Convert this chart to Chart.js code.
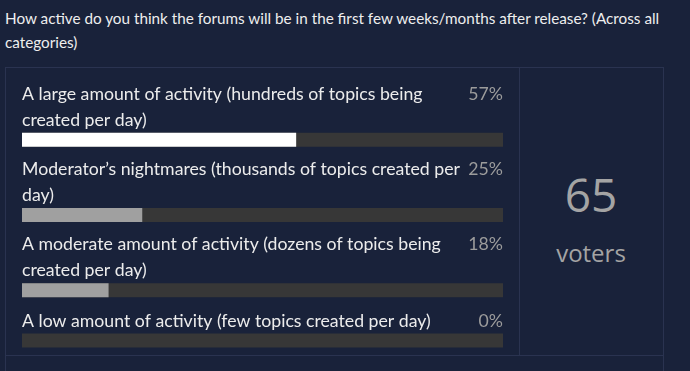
<!DOCTYPE html>
<html>
<head>
<meta charset="utf-8">
<script src="https://cdn.jsdelivr.net/npm/chart.js@4/dist/chart.umd.min.js"></script>
<style>
html, body { margin: 0; padding: 0; width: 690px; height: 371px; overflow: hidden; background: #19223a; }
.title { position: absolute; left: 5px; top: 6px; color: #eeeeee; font-family: Lato, sans-serif; font-size: 16px; line-height: 24px; white-space: nowrap; }
.title span { display: block; }
.poll { position: absolute; left: 5px; top: 67px; width: 657px; height: 330px; border: 1px solid #2a3350; }
.divider { position: absolute; left: 513px; top: 0; width: 1px; height: 287px; background: #2a3350; }
.hline { position: absolute; left: 0; top: 287px; width: 657px; height: 1px; background: #2a3350; }
.count { position: absolute; left: 519px; width: 144px; text-align: center; color: #a4a4a4; font-family: 'Open Sans', sans-serif; }
#num { top: 162px; font-size: 46px; line-height: 64px; }
#lbl { top: 235px; font-size: 24px; line-height: 36px; }
canvas { position: absolute; left: 0; top: 0; }
</style>
</head>
<body>
<div class="title" id="title">
  <span>How active do you think the forums will be in the first few weeks/months after release? (Across all</span>
  <span>categories)</span>
</div>
<div class="poll"><div class="divider"></div><div class="hline"></div></div>
<div class="count" id="num"></div>
<div class="count" id="lbl">voters</div>
<canvas id="poll_chart" width="519" height="371"></canvas>
<script>
// poll options (labels wrapped the way the forum wraps them)
var optionLabels = [
    ['A large amount of activity (hundreds of topics being', 'created per day)'],
    ['Moderator\u2019s nightmares (thousands of topics created per', 'day)'],
    ['A moderate amount of activity (dozens of topics being', 'created per day)'],
    ['A low amount of activity (few topics created per day)']
];
var percentages = [57, 25, 18, 0];
var voterCount = 65;

document.getElementById('num').textContent = voterCount;

// size the title so its first line fills the width like the forum does
var title = document.getElementById('title');
var firstLine = title.querySelector('span');
title.style.fontSize = (16 * 655 / firstLine.getBoundingClientRect().width) + 'px';

// each option takes one row per label line plus one for the bar
var cursor = 0;
var rowCenters = optionLabels.map(function (lines) {
    var c = cursor + lines.length + 0.5;
    cursor += lines.length + 1;
    return c;
});

var maxPct = Math.max.apply(null, percentages);
var fillColors = percentages.map(function (p) { return p === maxPct ? '#ffffff' : '#a0a0a0'; });

var labelPlugin = {
    id: 'optionLabels',
    afterDatasetsDraw: function (chart) {
        var ctx = chart.ctx;
        var area = chart.chartArea;
        var meta = chart.getDatasetMeta(1);
        ctx.save();
        ctx.textBaseline = 'middle';
        ctx.font = '17.7px Lato';
        meta.data.forEach(function (bar, i) {
            var lines = optionLabels[i];
            var top = bar.y - bar.height / 2;
            ctx.fillStyle = '#ececec';
            ctx.textAlign = 'left';
            lines.forEach(function (t, k) {
                ctx.fillText(t, area.left, top - 12.5 - (lines.length - 1 - k) * 26);
            });
            ctx.fillStyle = '#9c9c9c';
            ctx.textAlign = 'right';
            ctx.fillText(percentages[i] + '%', area.right, top - 12.5 - (lines.length - 1) * 26);
        });
        ctx.restore();
    }
};

var ctx = document.getElementById('poll_chart').getContext('2d');
var chart = new Chart(ctx, {
    type: 'bar',
    data: {
        datasets: [{
            label: 'Votes',
            data: percentages.map(function (p, i) { return { x: p, y: rowCenters[i] }; }),
            backgroundColor: fillColors,
            borderWidth: 0,
            inflateAmount: 0
        }, {
            label: 'Track',
            data: percentages.map(function (p, i) { return { x: 100, y: rowCenters[i] }; }),
            backgroundColor: '#373737',
            borderWidth: 0,
            inflateAmount: 0
        }]
    },
    options: {
        indexAxis: 'y',
        responsive: false,
        animation: false,
        grouped: false,
        barThickness: 14,
        layout: { padding: { left: 22, right: 16, top: 77, bottom: 18 } },
        scales: {
            x: { type: 'linear', min: 0, max: 100, display: false },
            y: { type: 'linear', min: 0, max: cursor, reverse: true, offset: false, display: false }
        },
        plugins: {
            legend: { display: false },
            tooltip: { enabled: false }
        }
    },
    plugins: [labelPlugin]
});
</script>
</body>
</html>
